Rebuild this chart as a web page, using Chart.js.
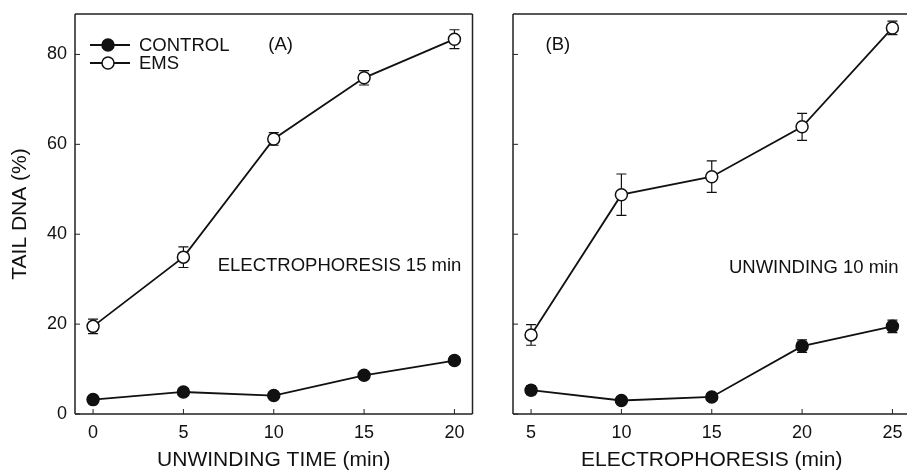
<!DOCTYPE html>
<html>
<head>
<meta charset="utf-8">
<script src="https://cdn.jsdelivr.net/npm/chart.js@4.4.0/dist/chart.umd.min.js"></script>
<style>
  html, body { margin: 0; padding: 0; background: #fff; overflow: hidden; }
  .wrap { position: absolute; top: 0; height: 470px; overflow: hidden; }
  #wrapA { left: 0; width: 480px; }
  #wrapB { left: 438px; width: 469px; }
  canvas { display: block; }
</style>
</head>
<body>
<div class="wrap" id="wrapA"><canvas id="chartA" width="480" height="470"></canvas></div>
<div class="wrap" id="wrapB"><canvas id="chartB" width="480" height="470"></canvas></div>
<script>
// values
const yTicks = [0, 20, 40, 60, 80];

const unwindTime = [0, 5, 10, 15, 20];
const controlA = [3.2, 4.9, 4.1, 8.6, 11.9];
const controlAErr = [0.6, 0.6, 0.5, 0.8, 0.8];
const emsA = [19.5, 34.9, 61.2, 74.8, 83.4];
const emsAErr = [1.6, 2.3, 1.4, 1.6, 2.1];

const electroTime = [5, 10, 15, 20, 25];
const controlB = [5.3, 3.0, 3.8, 15.1, 19.5];
const controlBErr = [1.0, 0.6, 0.6, 1.4, 1.4];
const emsB = [17.6, 48.8, 52.8, 63.9, 85.9];
const emsBErr = [2.3, 4.6, 3.5, 3.0, 1.5];

const FONT = '"Liberation Sans", Arial, Helvetica, sans-serif';
const INK = '#111';

function pts(xs, ys) {
  return xs.map((x, i) => ({ x: x, y: ys[i] }));
}

// error bars, frame and inward tick marks
const extras = {
  id: 'extras',
  beforeDatasetsDraw(chart) {
    const ctx = chart.ctx;
    const xs = chart.scales.x, ys = chart.scales.y;
    ctx.save();
    ctx.strokeStyle = INK;
    ctx.lineWidth = 1.2;
    chart.data.datasets.forEach(ds => {
      ds.data.forEach((p, i) => {
        const e = ds.errors[i];
        const px = xs.getPixelForValue(p.x);
        const top = ys.getPixelForValue(p.y + e);
        const bot = ys.getPixelForValue(p.y - e);
        ctx.beginPath();
        ctx.moveTo(px, top); ctx.lineTo(px, bot);
        ctx.moveTo(px - 5, top); ctx.lineTo(px + 5, top);
        ctx.moveTo(px - 5, bot); ctx.lineTo(px + 5, bot);
        ctx.stroke();
      });
    });
    ctx.restore();
  },
  afterDraw(chart, args, opts) {
    const ctx = chart.ctx;
    const a = chart.chartArea;
    const xs = chart.scales.x, ys = chart.scales.y;
    ctx.save();
    ctx.strokeStyle = '#222';
    ctx.lineWidth = 1.5;
    ctx.beginPath();
    ctx.moveTo(a.left, a.top); ctx.lineTo(a.left, a.bottom);
    ctx.moveTo(a.left, a.top); ctx.lineTo(a.right, a.top);
    ctx.moveTo(a.left, a.bottom); ctx.lineTo(a.right, a.bottom);
    if (opts.rightEdge) { ctx.moveTo(a.right, a.top); ctx.lineTo(a.right, a.bottom); }
    ctx.stroke();
    ctx.lineWidth = 1;
    ctx.beginPath();
    opts.xTicks.forEach(v => {
      const px = xs.getPixelForValue(v);
      ctx.moveTo(px, a.bottom); ctx.lineTo(px, a.bottom - 5);
    });
    yTicks.forEach(v => {
      const py = ys.getPixelForValue(v);
      ctx.moveTo(a.left, py); ctx.lineTo(a.left + 5, py);
    });
    ctx.stroke();

    ctx.fillStyle = INK;
    ctx.textBaseline = 'middle';
    ctx.font = '18.5px ' + FONT;
    opts.notes.forEach(n => {
      ctx.fillText(n.text, xs.getPixelForValue(n.x), ys.getPixelForValue(n.y));
    });

    if (opts.legend) {
      chart.data.datasets.forEach((ds, i) => {
        const y = a.top + 31 + i * 18;
        const x0 = a.left + 15;
        ctx.strokeStyle = INK;
        ctx.lineWidth = 1.8;
        ctx.beginPath();
        ctx.moveTo(x0, y); ctx.lineTo(x0 + 40, y);
        ctx.stroke();
        ctx.beginPath();
        ctx.arc(x0 + 18, y, 6, 0, Math.PI * 2);
        ctx.fillStyle = ds.pointBackgroundColor;
        ctx.fill();
        ctx.lineWidth = 1.5;
        ctx.stroke();
        ctx.fillStyle = INK;
        ctx.fillText(ds.label, x0 + 49, y + 1);
      });
    }
    ctx.restore();
  }
};

function makeChart(id, xs, ctl, ctlErr, ems, emsErr, xMin, xMax, xTitle, showYLabels, notes, legend, rightEdge) {
  return new Chart(document.getElementById(id), {
    type: 'line',
    data: {
      datasets: [{
        label: 'CONTROL',
        data: pts(xs, ctl),
        errors: ctlErr,
        borderColor: INK,
        borderWidth: 1.8,
        pointRadius: 6,
        pointBackgroundColor: INK,
        pointBorderColor: INK,
        pointBorderWidth: 1.5
      }, {
        label: 'EMS',
        data: pts(xs, ems),
        errors: emsErr,
        borderColor: INK,
        borderWidth: 1.8,
        pointRadius: 6,
        pointBackgroundColor: '#fff',
        pointBorderColor: INK,
        pointBorderWidth: 1.5
      }]
    },
    options: {
      responsive: false,
      animation: false,
      layout: { padding: { top: 14, right: 6, left: 0, bottom: 0 } },
      plugins: {
        legend: { display: false },
        tooltip: { enabled: false },
        extras: { xTicks: xs, notes: notes, legend: legend, rightEdge: rightEdge }
      },
      scales: {
        x: {
          type: 'linear',
          min: xMin,
          max: xMax,
          afterBuildTicks: s => { s.ticks = xs.map(v => ({ value: v })); },
          afterFit: s => { s.height = 56; s.paddingLeft = 0; s.paddingRight = 0; },
          grid: { display: false, drawTicks: false },
          border: { display: false },
          ticks: { color: INK, font: { family: FONT, size: 18 }, padding: 8, maxRotation: 0 },
          title: { display: true, text: xTitle, color: INK, font: { family: FONT, size: 21, lineHeight: 1 }, padding: { top: 0, bottom: -1 } }
        },
        y: {
          min: 0,
          max: 89,
          afterBuildTicks: s => { s.ticks = yTicks.map(v => ({ value: v })); },
          afterFit: s => { s.width = 75; s.paddingTop = 0; s.paddingBottom = 0; },
          grid: { display: false, drawTicks: false },
          border: { display: false },
          ticks: { display: showYLabels, color: INK, font: { family: FONT, size: 18 }, padding: 8 },
          title: { display: showYLabels, text: 'TAIL DNA (%)', color: INK, font: { family: FONT, size: 21, lineHeight: 1 }, padding: { top: 10, bottom: 0 } }
        }
      }
    },
    plugins: [extras]
  });
}

makeChart('chartA', unwindTime, controlA, controlAErr, emsA, emsAErr, -1, 21,
  'UNWINDING TIME (min)', true,
  [{ text: '(A)', x: 9.7, y: 82.1 }, { text: 'ELECTROPHORESIS 15 min', x: 6.9, y: 32.9 }], true, true);

makeChart('chartB', electroTime, controlB, controlBErr, emsB, emsBErr, 4, 26,
  'ELECTROPHORESIS (min)', false,
  [{ text: '(B)', x: 5.8, y: 82.1 }, { text: 'UNWINDING 10 min', x: 15.95, y: 32.5 }], false, false);
</script>
</body>
</html>
